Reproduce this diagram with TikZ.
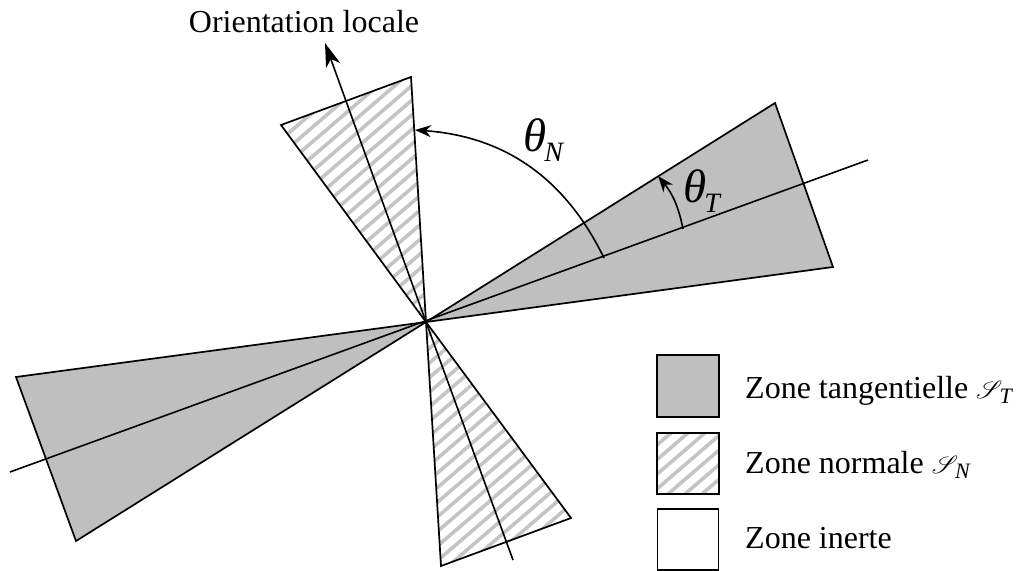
\documentclass[tikz,border=0pt]{standalone}
\usepackage{fontspec}
\usepackage{amsmath,amssymb}
\usepackage{mathrsfs}
\setmainfont{Liberation Serif}
\usetikzlibrary{arrows.meta,patterns}
\definecolor{tgray}{gray}{0.75}
\definecolor{hgray}{gray}{0.77}
\tikzset{
 px/.style={x=1pt,y=-1pt},
 outl/.style={draw=black,line width=1.7pt,line join=miter},
 tang/.style={outl,fill=tgray},
 axisl/.style={draw=black,line width=1.6pt},
 arrmain/.style={draw=black,line width=1.6pt,-{Stealth[length=24pt,width=15pt,inset=7pt]}},
 arr/.style={draw=black,line width=1.6pt,-{Stealth[length=16pt,width=12pt,inset=5pt]}},
 lab/.style={anchor=base west,font=\fontsize{32}{36}\selectfont,inner sep=0pt},
}
\newcommand{\hatchfill}[1]{%
 \begin{scope}
 \clip #1;
 \foreach \i in {-60,...,60}{
  \draw[hgray,line width=3.6pt] (426+\i*17-500,322+430) -- (426+\i*17+500,322-430);
 }
 \end{scope}}
\newcommand{\scr}[1]{{\fontsize{30}{32}\selectfont$\mathscr{S}$}\raisebox{-5pt}{\kern-3pt\fontsize{22}{24}\selectfont\itshape #1}}
\newcommand{\thet}[1]{{\fontsize{47}{50}\selectfont\itshape θ}\raisebox{-10pt}{\kern-2pt\fontsize{28}{30}\selectfont\itshape #1}}
\begin{document}
\begin{tikzpicture}[px]
\useasboundingbox (0,0) rectangle (1024,570);
\coordinate (O) at (426,322);
\coordinate (ta) at (775,103);
\coordinate (tb) at (833,267);
\coordinate (tc) at (16,377);
\coordinate (td) at (76,541);
\coordinate (na) at (281,125);
\coordinate (nb) at (411,77);
\coordinate (nc) at (571,518);
\coordinate (nd) at (441,566);
\coordinate (axT1) at (868,160);
\coordinate (axT2) at (10,472);
\coordinate (axNtip) at (325,43);
\coordinate (axNend) at (513,560);
\coordinate (bT) at (683,229);
\coordinate (eT) at (658,176);
\coordinate (bN) at (604,258);
\coordinate (eN) at (415,130);
\draw[tang] (O) -- (ta) -- (tb) -- cycle;
\draw[tang] (O) -- (tc) -- (td) -- cycle;
\hatchfill{(426,322) -- (281,125) -- (411,77) -- cycle}
\hatchfill{(426,322) -- (571,518) -- (441,566) -- cycle}
\draw[outl] (O) -- (na) -- (nb) -- cycle;
\draw[outl] (O) -- (nc) -- (nd) -- cycle;
\draw[axisl] (axT2) -- (axT1);
\draw[axisl] (axNend) -- (O);
\draw[arrmain] (O) -- (axNtip);
\draw[arr] (bT) to[bend right=14] (eT);
\draw[arr] (bN) to[bend right=30] (eN);
\node[anchor=base,font=\fontsize{32}{36}\selectfont,inner sep=0pt] (t0) at (304,32) {Orientation locale};
\node[anchor=base west,inner sep=0pt] (t1) at (523,151) {\thet{N}};
\node[anchor=base west,inner sep=0pt] (t2) at (683,202) {\thet{T}};
\node[draw=black,line width=1.7pt,fill=tgray,minimum size=62pt,inner sep=0pt] (k1) at (688,386) {};
\hatchfill{(657,433) rectangle (719,494)}
\draw[outl] (657,433) rectangle (719,494);
\node[draw=black,line width=1.7pt,fill=white,minimum size=61pt,inner sep=0pt] (k3) at (688,539.5) {};
\node[lab] (l1) at (745,398) {Zone tangentielle \scr{T}};
\node[lab] (l2) at (745,473) {Zone normale \scr{N}};
\node[lab] (l3) at (745,548) {Zone inerte};
\end{tikzpicture}
\end{document}
